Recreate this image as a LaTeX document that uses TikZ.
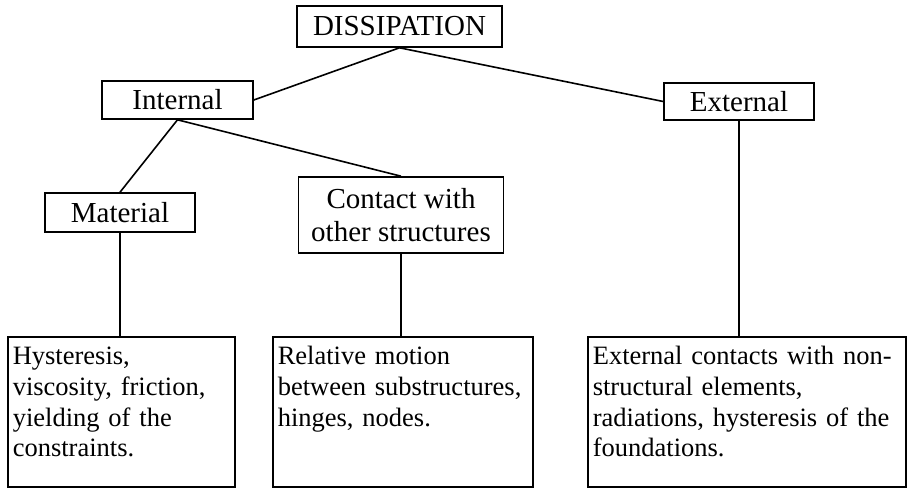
\documentclass[tikz,border=0pt]{standalone}
\usepackage{fontspec}
\setmainfont{Liberation Serif}

\begin{document}
\begin{tikzpicture}[x=1pt,y=-1pt,
  box/.style={draw,line width=1.6pt,inner sep=0pt,font=\fontsize{29}{33}\selectfont},
  descbox/.style={draw,line width=1.6pt,anchor=north west,inner xsep=5pt,inner ysep=0pt,
    text height=28pt,text depth=122pt,align=left,font=\fontsize{26.5}{30.7}\selectfont},
  link/.style={line width=1.6pt}]
  \useasboundingbox (0,0) rectangle (907,487);
  \node[box,minimum width=205pt,minimum height=41pt] (diss) at (399.5,26.5) {DISSIPATION};
  \node[box,minimum width=151pt,minimum height=38pt] (internal) at (177.5,100) {Internal};
  \node[box,minimum width=150pt,minimum height=37pt] (external) at (739,101.5) {External};
  \node[box,minimum width=150pt,minimum height=39pt] (material) at (120,212.5) {Material};
  \node[box,minimum width=205pt,minimum height=76pt,align=center] (contact) at (401,215)
    {Contact with\\other structures};
  \node[descbox,text width=217pt] (hyst) at (7,336)
    {Hysteresis,\\viscosity, friction,\\yielding of the\\constraints.};
  \node[descbox,text width=250pt] (relmot) at (272,336)
    {Relative motion\\between substructures,\\hinges, nodes.};
  \node[descbox,text width=308pt] (extcont) at (587,336)
    {External contacts with non-\\structural elements,\\radiations, hysteresis of the\\foundations.};
  \draw[link] (diss.south) -- (internal.east);
  \draw[link] (diss.south) -- (external.west);
  \draw[link] (internal.south) -- (material.north);
  \draw[link] (internal.south) -- (contact.north);
  \draw[link] (material.south) -- (material.south |- hyst.north);
  \draw[link] (contact.south) -- (contact.south |- relmot.north);
  \draw[link] (external.south) -- (external.south |- extcont.north);
\end{tikzpicture}
\end{document}
